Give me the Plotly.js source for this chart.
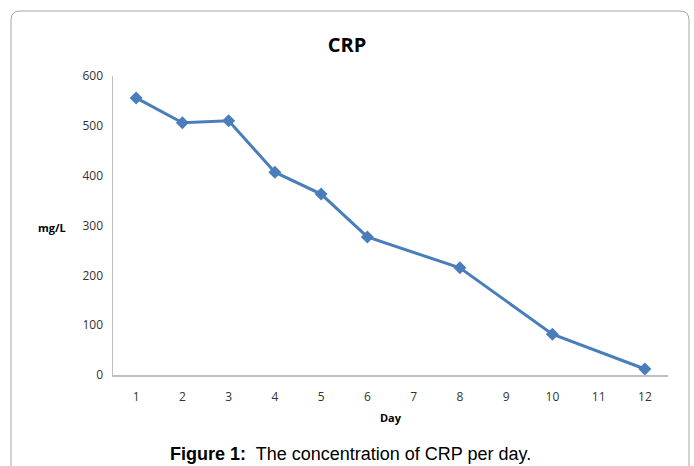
<!DOCTYPE html>
<html>
<head>
<meta charset="utf-8">
<script src="https://cdn.plot.ly/plotly-3.0.1.min.js"></script>
<style>html,body{margin:0;padding:0;background:#fff;}#chart{width:694px;height:466px;}</style>
</head>
<body>
<div id="chart"></div>
<script>
const days = [1, 2, 3, 4, 5, 6, 8, 10, 12];
const crp = [556, 506, 510, 407, 363, 277, 215, 82, 12];
const tickDays = [1, 2, 3, 4, 5, 6, 7, 8, 9, 10, 11, 12];
const chartTitle = "CRP";
const yLabel = "mg/L";
const xLabel = "Day";
const caption = "<b>Figure 1:</b>  The concentration of CRP per day.";

const W = 694, H = 466;
const L = 113, R = 668, T = 76, B = 375;
const px = v => (v - L) / (R - L);
const py = v => (B - v) / (B - T);

const fx0 = 11, fx1 = 689, fy0 = 11, fy1 = 500, rr = 9;
const framePath = `M ${px(fx0)},${py(fy1)} L ${px(fx0)},${py(fy0+rr)} Q ${px(fx0)},${py(fy0)} ${px(fx0+rr)},${py(fy0)} L ${px(fx1-rr)},${py(fy0)} Q ${px(fx1)},${py(fy0)} ${px(fx1)},${py(fy0+rr)} L ${px(fx1)},${py(fy1)}`;

const trace = {
  x: days, y: crp, type: 'scatter', mode: 'lines+markers',
  line: {color: '#4a7ebb', width: 3},
  marker: {symbol: 'diamond', size: 10, color: '#4a7ebb'},
  cliponaxis: false, hoverinfo: 'none'
};

const layout = {
  width: W, height: H,
  margin: {l: L, r: W - R, t: T, b: H - B},
  paper_bgcolor: '#ffffff', plot_bgcolor: '#ffffff',
  showlegend: false,
  font: {family: 'Open Sans, Lato, sans-serif', size: 12, color: '#333333'},
  title: {text: '<b>' + chartTitle + '</b>', x: 0.5, xref: 'container', y: 1 - 45/H, yref: 'container', yanchor: 'middle',
          font: {family: 'Open Sans, sans-serif', size: 20, color: '#000000'}},
  xaxis: {
    range: [0.5, 12.5], tickvals: tickDays, ticktext: tickDays.map(String),
    showgrid: false, zeroline: false, showline: true, linecolor: '#bfbfbf', linewidth: 1.5,
    ticks: '', ticklen: 0, tickfont: {size: 12, color: '#333'}, ticklabelstandoff: 10,
    title: {text: '<b>' + xLabel + '</b>', font: {size: 11, color: '#000'}, standoff: 10},
    fixedrange: true
  },
  yaxis: {
    range: [0, 600], dtick: 100, tick0: 0,
    showgrid: false, zeroline: false, showline: true, linecolor: '#bfbfbf', linewidth: 1.5,
    ticks: '', tickfont: {size: 12, color: '#333'}, ticklabelstandoff: 6,
    fixedrange: true
  },
  shapes: [{type: 'path', xref: 'paper', yref: 'paper', path: framePath, line: {color: '#a6a6a6', width: 1}}],
  annotations: [
    {text: '<b>' + yLabel + '</b>', xref: 'paper', yref: 'paper', x: px(52), y: py(227), showarrow: false,
     xanchor: 'center', yanchor: 'middle', font: {size: 11, color: '#000'}},
    {text: caption, xref: 'paper', yref: 'paper', x: px(350), y: py(454), showarrow: false,
     xanchor: 'center', yanchor: 'middle', font: {family: 'Liberation Sans, Arial, sans-serif', size: 18, color: '#000'}}
  ]
};

Plotly.newPlot('chart', [trace], layout, {displayModeBar: false, staticPlot: true});
</script>
</body>
</html>
